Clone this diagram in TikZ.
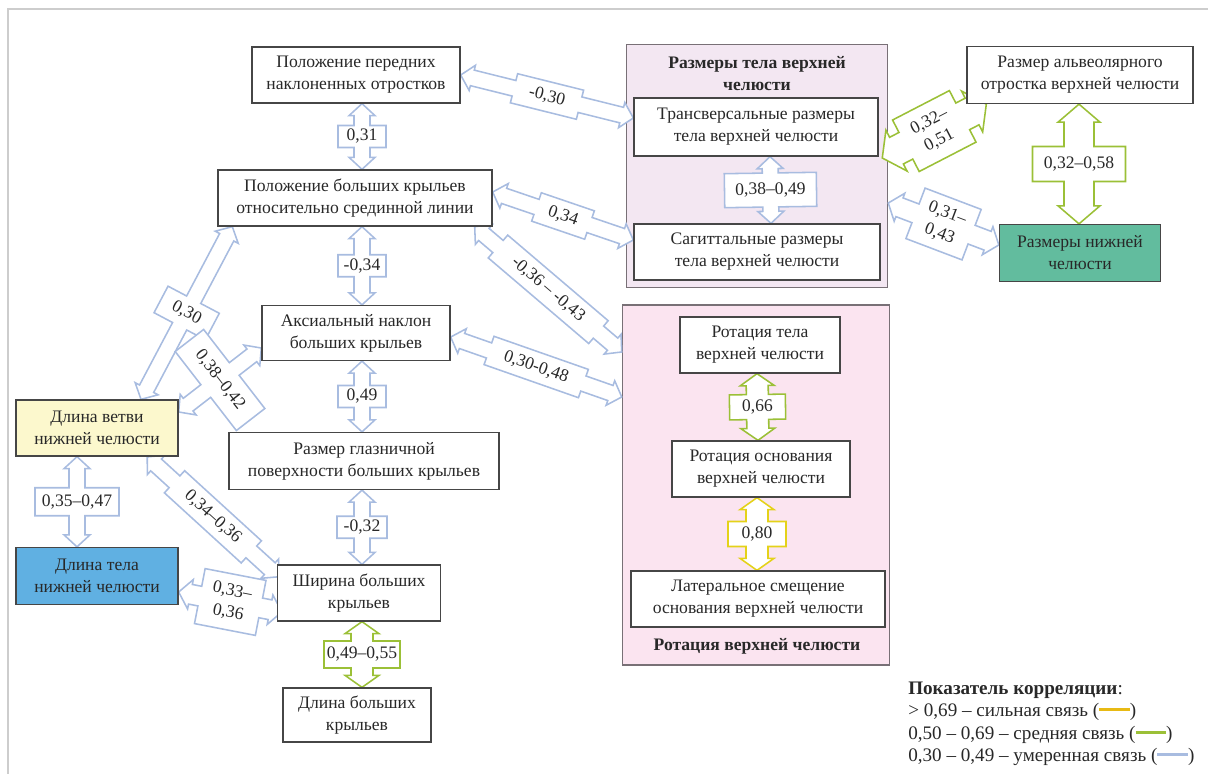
\documentclass[tikz,border=0pt]{standalone}
\usepackage{fontspec}
\setmainfont{Liberation Serif}
\usetikzlibrary{calc}

\pgfdeclarelayer{back}
\pgfdeclarelayer{links}
\pgfsetlayers{back,links,main}

\definecolor{modblue}{RGB}{168,188,224}
\definecolor{medgreen}{RGB}{155,192,55}
\definecolor{stryellow}{RGB}{228,210,25}
\definecolor{strbar}{RGB}{232,186,20}
\definecolor{boxline}{RGB}{70,70,70}
\definecolor{inktext}{RGB}{40,40,40}
\definecolor{framegray}{RGB}{205,205,205}
\definecolor{ramusfill}{RGB}{252,248,205}
\definecolor{bodyfill}{RGB}{96,176,226}
\definecolor{mandfill}{RGB}{98,188,158}
\definecolor{sizefill}{RGB}{243,231,242}
\definecolor{rotfill}{RGB}{251,228,240}
\definecolor{groupline}{RGB}{120,112,118}

\newcommand{\boxfont}{\fontsize{12.5}{15.6}\selectfont}
\newcommand{\legfont}{\fontsize{13.6}{16}\selectfont}
\def\pxpt{0.71132}

\tikzset{
  lablen/.store in=\cll, labwid/.store in=\clw,
  shaftw/.store in=\csw, headw/.store in=\chw, headl/.store in=\chl,
  lablen=50, labwid=24, shaftw=16, headw=26, headl=12
}

% double block arrow with the value box in its middle
\newcommand{\corrlink}[5][]{%
  \path (#2) coordinate (ca) (#3) coordinate (cb);
  \pgfpointdiff{\pgfpointanchor{ca}{center}}{\pgfpointanchor{cb}{center}}%
  \pgfgetlastxy{\cdx}{\cdy}%
  \pgfmathsetmacro{\cang}{atan2(\cdy,\cdx)}%
  \pgfmathsetmacro{\chalf}{veclen(\cdx,\cdy)/2/\pxpt}%
  \begin{scope}[shift={($(ca)!0.5!(cb)$)},rotate=\cang,#1]
    \draw[linkshape]
      (-\chalf,0) -- ({-\chalf+\chl},{\chw/2}) -- ({-\chalf+\chl},{\csw/2})
      -- ({-\cll/2},{\csw/2}) -- ({-\cll/2},{\clw/2}) -- ({\cll/2},{\clw/2})
      -- ({\cll/2},{\csw/2}) -- ({\chalf-\chl},{\csw/2}) -- ({\chalf-\chl},{\chw/2})
      -- (\chalf,0) -- ({\chalf-\chl},{-\chw/2}) -- ({\chalf-\chl},{-\csw/2})
      -- ({\cll/2},{-\csw/2}) -- ({\cll/2},{-\clw/2}) -- ({-\cll/2},{-\clw/2})
      -- ({-\cll/2},{-\csw/2}) -- ({-\chalf+\chl},{-\csw/2})
      -- ({-\chalf+\chl},{-\chw/2}) -- cycle;
  \end{scope}
  \pgfmathsetmacro{\ctxt}{Mod(\cang+#4+90,180)-90}%
  \node[linklabel,rotate=\ctxt] at ($(ca)!0.5!(cb)$) {#5};
}

\begin{document}
\begin{tikzpicture}[
  x=0.025cm, y=-0.025cm,
  box/.style={draw=boxline,fill=white,line width=0.9pt,align=center,
              inner sep=1pt,text=inktext,font=\boxfont},
  group/.style={draw=groupline,line width=1pt},
  grouptitle/.style={align=center,inner sep=0pt,text=inktext,
                     font=\boxfont\bfseries},
  linklabel/.style={align=center,inner sep=0pt,text=inktext,font=\boxfont},
  linkshape/.style={fill=white,line width=1.1pt,line join=miter},
  modarrow/.style={draw=modblue},
  medarrow/.style={draw=medgreen},
  strarrow/.style={draw=stryellow},
  legend/.style={anchor=west,inner sep=0pt,text=inktext,font=\legfont}
]
\useasboundingbox (0,0) rectangle (1208,774);
\draw[framegray,line width=1.4pt] (8,774) -- (8,9) -- (1208,9);

% groups
\begin{pgfonlayer}{back}
\node[group,fill=sizefill,minimum width=6.525cm,minimum height=6.075cm]
  (sz) at (757,166) {};
\node[grouptitle] at (757,74) {Размеры тела верхней\\челюсти};
\node[group,fill=rotfill,minimum width=6.675cm,minimum height=9cm]
  (rot) at (756,485) {};
\node[grouptitle] at (757,646) {Ротация верхней челюсти};
\end{pgfonlayer}

% sphenoid column
\node[box,minimum width=5.2cm,minimum height=1.4cm] (A) at (356,75)
  {Положение передних\\наклоненных отростков};
\node[box,minimum width=6.85cm,minimum height=1.4cm] (B) at (355,198)
  {Положение больших крыльев\\относительно срединной линии};
\node[box,minimum width=4.7cm,minimum height=1.375cm] (C) at (356,333)
  {Аксиальный наклон\\больших крыльев};
\node[box,minimum width=6.75cm,minimum height=1.425cm] (D) at (364,461)
  {Размер глазничной\\поверхности больших крыльев};
\node[box,minimum width=4.075cm,minimum height=1.4cm] (E) at (359,593)
  {Ширина больших\\крыльев};
\node[box,minimum width=3.7cm,minimum height=1.35cm] (F) at (357,715)
  {Длина больших\\крыльев};
\coordinate (col) at (362,0);

% mandible
\node[box,fill=ramusfill,minimum width=4.05cm,minimum height=1.4cm] (G)
  at (97,428) {Длина ветви\\нижней челюсти};
\node[box,fill=bodyfill,minimum width=4.05cm,minimum height=1.425cm] (H)
  at (97,576) {Длина тела\\нижней челюсти};
\node[box,minimum width=5.65cm,minimum height=1.425cm] (N) at (1080,75)
  {Размер альвеолярного\\отростка верхней челюсти};
\node[box,fill=mandfill,minimum width=4.025cm,minimum height=1.425cm] (O)
  at (1080,253) {Размеры нижней\\челюсти};

% maxilla
\node[box,minimum width=6.1cm,minimum height=1.45cm] (I) at (756,127)
  {Трансверсальные размеры\\тела верхней челюсти};
\node[box,minimum width=6.15cm,minimum height=1.4cm] (J) at (757,252)
  {Сагиттальные размеры\\тела верхней челюсти};
\node[box,minimum width=4cm,minimum height=1.4cm] (K) at (760,345)
  {Ротация тела\\верхней челюсти};
\node[box,minimum width=4.45cm,minimum height=1.4cm] (L) at (761,469)
  {Ротация основания\\верхней челюсти};
\node[box,minimum width=6.35cm,minimum height=1.4cm] (M) at (758,599)
  {Латеральное смещение\\основания верхней челюсти};

\begin{pgfonlayer}{links}
\corrlink[modarrow,lablen=22,labwid=48]{B.north -| col}{A.south -| col}{90}{0,31}
\corrlink[modarrow,lablen=22,labwid=48]{C.north -| col}{B.south -| col}{90}{-0,34}
\corrlink[modarrow,lablen=22,labwid=48]{D.north -| col}{C.south -| col}{90}{0,49}
\corrlink[modarrow,lablen=22,labwid=50]{E.north -| col}{D.south -| col}{90}{-0,32}
\corrlink[medarrow,lablen=27,labwid=76,shaftw=22,headw=34]
  {F.north -| col}{E.south -| col}{90}{0,49–0,55}
\corrlink[modarrow,lablen=28,labwid=84]
  {$(H.north)+(-20,0)$}{$(G.south)+(-20,0)$}{90}{0,35–0,47}
\corrlink[modarrow,lablen=30,labwid=58]
  {$(G.north)+(44,0)$}{$(B.south west)+(15,0)$}{90}{0,30}
\corrlink[modarrow,lablen=36,labwid=100]
  {$(G.east)+(0,-16)$}{$(C.west)+(0,15)$}{90}{0,38–0,42}
\corrlink[modarrow,lablen=104,labwid=30]
  {$(G.south)+(50,0)$}{$(E.west)+(2,-16)$}{0}{0,34–0,36}
\corrlink[modarrow,lablen=62,labwid=56,shaftw=20,headw=30]
  {$(H.east)+(0,16)$}{$(E.west)+(5,19)$}{0}{0,33–\\0,36}
\corrlink[modarrow,lablen=68,labwid=30]
  {A.east}{$(I.west)+(0,-9)$}{0}{-0,30}
\corrlink[modarrow,lablen=56,labwid=30]
  {$(B.east)+(0,-6)$}{$(J.west)+(0,-12)$}{0}{0,34}
\corrlink[modarrow,lablen=132,labwid=30]
  {$(B.south east)+(-18,0)$}{$(rot.west)+(0,-133)$}{0}{-0,36 – -0,43}
\corrlink[modarrow,lablen=100,labwid=30]
  {$(C.east)+(0,4)$}{$(rot.west)+(0,-88)$}{0}{0,30-0,48}
\corrlink[modarrow,lablen=34,labwid=92]
  {$(J.north)+(14,0)$}{$(I.south)+(14,0)$}{90}{0,38–0,49}
\corrlink[medarrow,lablen=25,labwid=56,shaftw=22,headw=34]
  {$(L.north)+(-3,0)$}{$(K.south)+(-3,0)$}{90}{0,66}
\corrlink[strarrow,lablen=25,labwid=58,shaftw=22,headw=34]
  {$(M.north)+(-1,0)$}{$(L.south)+(-4,0)$}{90}{0,80}
\corrlink[medarrow,lablen=64,labwid=58,shaftw=30,headw=46,headl=16]
  {$(sz.east)+(-6,-8)$}{$(N.south west)+(20,0)$}{0}{0,32–\\0,51}
\corrlink[modarrow,lablen=60,labwid=54,shaftw=20,headw=30]
  {$(sz.east)+(0,37)$}{$(O.west)+(0,-8)$}{0}{0,31–\\0,43}
\corrlink[medarrow,lablen=35,labwid=93,shaftw=30,headw=42,headl=18]
  {$(O.north)+(-1,0)$}{$(N.south)+(-1,0)$}{90}{0,32–0,58}
\end{pgfonlayer}

% legend
\node[legend] (legtitle) at (908,690) {\textbf{Показатель корреляции}:};
\node[legend] (legstr) at (908,712)
  {> 0,69 – сильная связь (\textcolor{strbar}{\rule[0.28em]{1.6em}{2.6pt}})};
\node[legend] (legmed) at (908,735)
  {0,50 – 0,69 – средняя связь (\textcolor{medgreen}{\rule[0.28em]{1.6em}{2.6pt}})};
\node[legend] (legmod) at (908,757)
  {0,30 – 0,49 – умеренная связь (\textcolor{modblue}{\rule[0.28em]{1.6em}{2.6pt}})};
\end{tikzpicture}
\end{document}
